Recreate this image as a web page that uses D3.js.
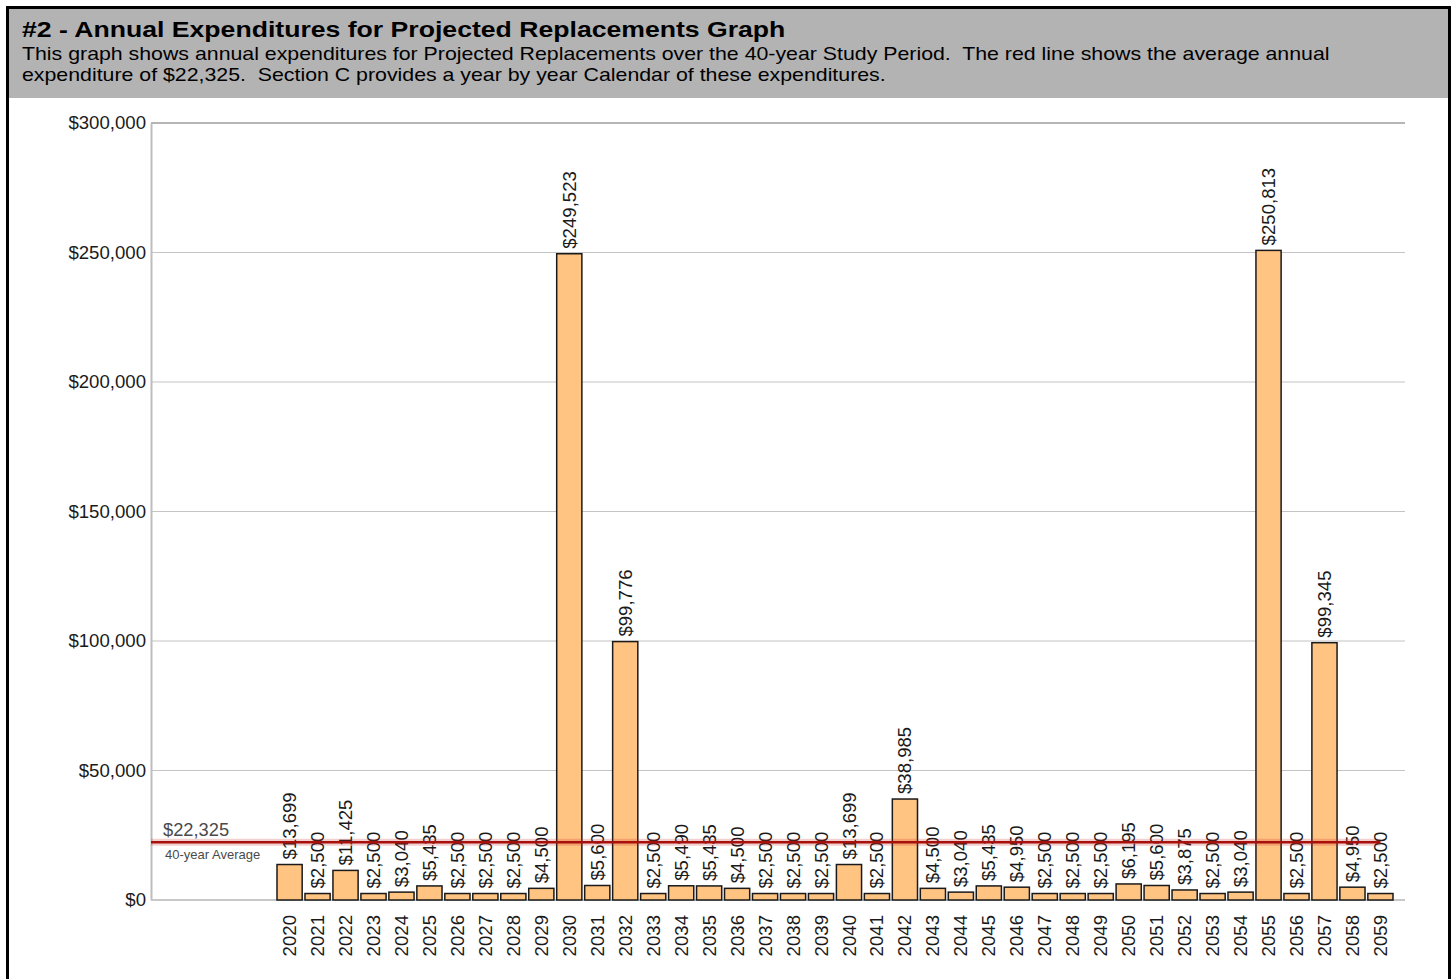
<!DOCTYPE html>
<html>
<head>
<meta charset="utf-8">
<script src="https://cdn.jsdelivr.net/npm/d3@7"></script>
<style>
  html, body { margin: 0; padding: 0; background: #fff; }
  svg { display: block; }
  text { font-family: "Liberation Sans", Arial, sans-serif; }
  text.pre { white-space: pre; }
</style>
</head>
<body>
<svg id="chart" width="1452" height="979"></svg>
<script>
// ---- data ----
const years = ["2020","2021","2022","2023","2024","2025","2026","2027","2028","2029",
               "2030","2031","2032","2033","2034","2035","2036","2037","2038","2039",
               "2040","2041","2042","2043","2044","2045","2046","2047","2048","2049",
               "2050","2051","2052","2053","2054","2055","2056","2057","2058","2059"];
const expenditures = [13699, 2500, 11425, 2500, 3040, 5435, 2500, 2500, 2500, 4500,
                      249523, 5600, 99776, 2500, 5490, 5435, 4500, 2500, 2500, 2500,
                      13699, 2500, 38985, 4500, 3040, 5435, 4950, 2500, 2500, 2500,
                      6195, 5600, 3875, 2500, 3040, 250813, 2500, 99345, 4950, 2500];
const average = 22325;
const yTicks = [0, 50000, 100000, 150000, 200000, 250000, 300000];
const titleText = "#2 - Annual Expenditures for Projected Replacements Graph";
const subtitleLines = [
  "This graph shows annual expenditures for Projected Replacements over the 40-year Study Period.  The red line shows the average annual",
  "expenditure of $22,325.  Section C provides a year by year Calendar of these expenditures."
];
const avgLabel = "$22,325";
const avgCaption = "40-year Average";

// ---- layout ----
const W = 1452, H = 979;
const plotLeft = 151, plotRight = 1405, plotTop = 123, plotBottom = 900;
const barsLeft = 277, barsRight = 1393;

const svg = d3.select("#chart");
const fmt = d3.format("$,");

// frame + header
svg.append("rect").attr("x", 9).attr("y", 9).attr("width", 1439).attr("height", 89)
  .attr("fill", "#b3b3b3");
svg.append("rect").attr("x", 7.5).attr("y", 7.5).attr("width", 1442).attr("height", 1000)
  .attr("fill", "none").attr("stroke", "#000").attr("stroke-width", 3);

svg.append("text").attr("class", "pre")
  .attr("transform", "translate(22,37) scale(1.21,1)")
  .attr("font-size", 22).attr("font-weight", "bold").attr("fill", "#000")
  .text(titleText);
svg.selectAll("text.sub").data(subtitleLines).join("text")
  .attr("class", "sub pre")
  .attr("transform", (d, i) => `translate(22,${60 + i * 21}) scale(1.185,1)`)
  .attr("font-size", 18).attr("fill", "#000")
  .text(d => d);

// scales
const x = d3.scaleBand().domain(years).range([barsLeft, barsRight])
  .paddingInner(0.1).paddingOuter(0);
const y = d3.scaleLinear().domain([0, 300000]).range([plotBottom, plotTop]);

// gridlines
svg.append("g").selectAll("line").data(yTicks).join("line")
  .attr("x1", plotLeft).attr("x2", plotRight)
  .attr("y1", d => y(d)).attr("y2", d => y(d))
  .attr("stroke", d => d === 300000 ? "#b5b5b5" : "#c4c4c4")
  .attr("stroke-width", d => d === 300000 ? 2 : 1.2);

// y axis
const yAxis = d3.axisLeft(y).tickValues(yTicks).tickFormat(fmt).tickSize(0).tickPadding(5);
const gy = svg.append("g").attr("transform", `translate(${plotLeft},0)`).call(yAxis);
gy.select(".domain").attr("stroke", "#bdbdbd").attr("stroke-width", 2);
gy.selectAll("text").attr("font-size", 18.6).attr("fill", "#1a1a1a")
  .attr("font-family", "Liberation Sans, Arial, sans-serif");

// x axis baseline
svg.append("line").attr("x1", plotLeft).attr("x2", plotRight)
  .attr("y1", y(0)).attr("y2", y(0)).attr("stroke", "#c8c8c8").attr("stroke-width", 2);

// x axis labels
const xAxis = d3.axisBottom(x).tickSize(0).tickPadding(0);
const gx = svg.append("g").attr("transform", `translate(0,${plotBottom})`).call(xAxis);
gx.select(".domain").remove();
gx.selectAll("text")
  .attr("font-size", 18.6).attr("fill", "#1a1a1a")
  .attr("font-family", "Liberation Sans, Arial, sans-serif")
  .attr("text-anchor", "end")
  .attr("transform", "rotate(-90)")
  .attr("x", -15).attr("y", 0).attr("dy", "0.35em");

// bars
const data = years.map((yr, i) => ({ year: yr, value: expenditures[i] }));
svg.append("g").selectAll("rect").data(data).join("rect")
  .attr("x", d => x(d.year)).attr("width", x.bandwidth())
  .attr("y", d => y(d.value)).attr("height", d => y(0) - y(d.value))
  .attr("fill", "#ffc382").attr("stroke", "#1a1a1a").attr("stroke-width", 1.5);

// bar labels
svg.append("g").selectAll("text").data(data).join("text")
  .attr("transform", d => `translate(${x(d.year) + x.bandwidth() / 2},${y(d.value) - 5}) rotate(-90)`)
  .attr("dy", "0.35em").attr("text-anchor", "start")
  .attr("font-size", 18.6).attr("fill", "#1a1a1a")
  .text(d => fmt(d.value));

// average line
const lastCenter = x(years[years.length - 1]) + x.bandwidth() / 2;
svg.append("line").attr("x1", plotLeft).attr("x2", lastCenter)
  .attr("y1", y(average)).attr("y2", y(average))
  .attr("stroke", "rgba(200,40,40,0.22)").attr("stroke-width", 7);
svg.append("line").attr("x1", plotLeft).attr("x2", lastCenter)
  .attr("y1", y(average)).attr("y2", y(average))
  .attr("stroke", "#a8100c").attr("stroke-width", 2.6);
svg.append("text").attr("x", 163).attr("y", y(average) - 6)
  .attr("font-size", 18.3).attr("fill", "#4a4a4a").text(avgLabel);
svg.append("text").attr("x", 165).attr("y", y(average) + 17)
  .attr("font-size", 13).attr("fill", "#4a4a4a").text(avgCaption);
</script>
</body>
</html>
